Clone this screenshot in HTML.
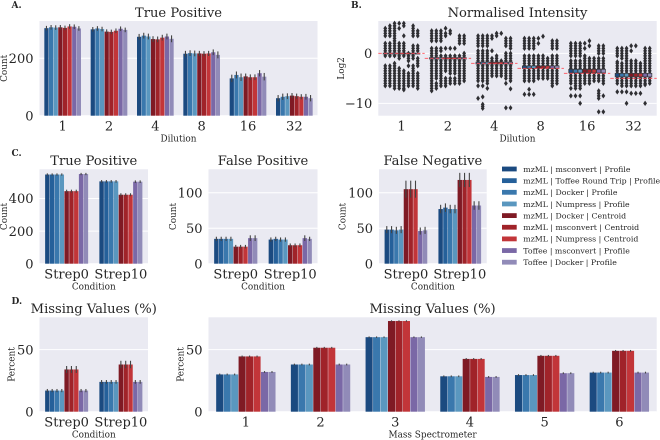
<!DOCTYPE html>
<html>
<head>
<meta charset="utf-8">
<title>Proteomics benchmark figure</title>
<style>
html,body{margin:0;padding:0;background:#fff;width:660px;height:440px;overflow:hidden}
svg{display:block;filter:blur(0.35px)}
text{font-family:"DejaVu Serif","Liberation Serif",serif;fill:#262626}
</style>
</head>
<body>
<svg id="fig" width="660" height="440" viewBox="0 0 660 440" xmlns="http://www.w3.org/2000/svg"></svg>
<script>
// ---------- data ----------
const dilutionCategories = ['1','2','4','8','16','32'];
const conditionCategories = ['Strep0','Strep10'];
const spectrometerCategories = ['1','2','3','4','5','6'];
const legendLabels = ['mzML | msconvert | Profile','mzML | Toffee Round Trip | Profile','mzML | Docker | Profile','mzML | Numpress | Profile','mzML | Docker | Centroid','mzML | msconvert | Centroid','mzML | Numpress | Centroid','Toffee | msconvert | Profile','Toffee | Docker | Profile'];

const tpDilutionValues = [[305,308,307,308,306,311,310,304],[301,304,302,293,292,296,303,299],[275,279,276,267,266,272,276,268],[216,218,217,217,216,217,221,212],[130,142,134,137,134,134,148,136],[61,66,68,70,68,66,66,61]];
const tpDilutionErrors = [[8,8,8,8,8,8,8,8],[8,8,8,8,8,8,8,8],[10,10,10,10,10,10,10,12],[10,10,10,9,9,9,10,12],[13,12,13,10,10,10,11,13],[11,11,10,9,9,9,10,11]];

const tpConditionValues = [[547,547,547,547,445,445,445,550,550],[505,505,505,505,423,423,423,503,503]];
const tpConditionErrors = [[7,7,7,7,9,9,9,7,7],[8,8,8,8,9,9,9,8,8]];
const fpConditionValues = [[35,35,35,35,24,24,24,36,36],[34,35,34,34,26,26,26,36,35]];
const fpConditionErrors = [[3,3,3,3,2.5,2.5,2.5,4,4],[3,3,3,3,2.5,2.5,2.5,4,3]];
const fnConditionValues = [[48,48,47,48,105,105,105,46,47],[77,79,77,77,118,118,118,82,82]];
const fnConditionErrors = [[5,5,5,5,12,12,12,5,5],[6,6,6,6,10,10,10,6,6]];
const mvConditionValues = [[17,17,17,17,34,34,34,17,17],[24,24,24,24,38,38,38,24,24]];
const mvConditionErrors = [[1.3,1.3,1.3,1.3,2.8,2.8,2.8,1.3,1.3],[1.5,1.5,1.5,1.5,3,3,3,1.5,1.5]];
const mvSpectrometerValues = [[30,30,30,44.5,44.5,44.5,32,32],[38,38,38,51.5,51.5,51.5,38,38],[60,60,60,73,73,73,60,60],[28.5,28.5,28.5,42.5,42.5,42.5,28,28],[29.5,29.5,29.5,45,45,45,31,31],[31.5,31.5,31.5,49,49,49,31.5,31.5]];
const mvSpectrometerErrors = [[.7,.7,.7,.7,.7,.7,.7,.7],[.7,.7,.7,.7,.7,.7,.7,.7],[.6,.6,.6,.6,.6,.6,.6,.6],[.7,.7,.7,.7,.7,.7,.7,.7],[.7,.7,.7,.7,.7,.7,.7,.7],[.7,.7,.7,.7,.7,.7,.7,.7]];

// Normalised intensity: outlier points per dilution, per series
const intensityD1 = [
[5,4.5,4,3.5,2,1.5,1,.5,0,-.5,-2.5,-3,-3.5,-4,-4.5,-5,-5.5,-6,-6.5],
[5.5,5,4.5,4,3.5,2,1.5,1,.5,0,-.5,-2.5,-3,-3.5,-4,-4.5,-5,-5.5,-6,-6.5],
[6,5.5,5,4.5,4,3.5,3,2.5,2,1.5,1,.5,0,-.5,-2,-2.5,-3,-3.5,-4,-4.5,-5,-5.5,-6,-6.5,-7],
[6,5,2,1.5,1,.5,0,-.5,-1,-3,-3.5,-4,-4.5,-5,-5.5,-6,-6.5,-7],
[6,5.5,3.5,2,1.5,1,.5,0,-.5,-3.5,-4,-4.5,-5,-5.5,-6,-6.5,-7,-7.3],
[0,-.5,-1,-1.5,-2.5,-4,-4.5,-5,-5.5,-6,-6.5],
[5.5,5,4.5,4,3.5,1.5,1,.5,0,-.5,-1,-2.5,-3,-3.5,-4,-4.5,-5,-5.5,-6,-6.5],
[4.5,4,3.5,1.5,1,.5,-1,-1.5,-2,-2.5,-4,-4.5,-5,-5.5,-6,-6.5,-7]];
const intensityD2 = [
[4.5,4,3.5,3,2.5,1,.5,0,-.5,-1,-1.5,-2,-2.5,-3,-3.5,-4,-4.5,-5,-5.5,-6,-6.5,-7,-7.5],
[4.5,4,3.5,3,2.5,1,.5,0,-.5,-1,-1.5,-2,-2.5,-3,-3.5,-4,-4.5,-5,-6,-6.5,-7],
[4.5,4,3.5,3,2.5,1,.5,-.5,-1,-1.5,-2,-2.5,-3,-3.5,-4,-4.5,-5,-5.5,-6,-6.5],
[5,4,3.5,1,-.5,-1,-1.5,-2,-2.5,-3,-3.5,-5,-5.5,-6,-6.5],
[4.5,4,1,-.5,-1,-1.5,-2,-2.5,-3,-3.5,-4,-5,-5.5,-6],
[1,-.5,-1,-1.5,-2,-2.5,-3,-3.5,-4,-5,-5.5,-6],
[3.5,3,2.5,2,-.5,-1,-1.5,-2,-2.5,-3,-3.5,-4,-4.5,-5,-5.5,-6],
[3.5,3,2.5,2,0,-.5,-1,-1.5,-2,-2.5,-3,-3.5,-4,-4.5,-5,-5.5]];
const intensityD4 = [
[3.5,3,2.5,2,1.5,.5,0,-.5,-1,-1.5,-2,-2.5,-3,-3.5,-4,-4.5,-5,-5.5,-6.5,-9],
[3.5,3,2.5,2,1.5,.5,0,-.5,-1,-1.5,-2,-2.5,-3,-3.5,-4,-4.5,-5,-5.5,-6.5,-8.7,-10.2,-10.6,-11],
[3.5,3,2.5,2,1.5,.5,0,-.5,-1,-1.5,-2,-2.5,-3,-3.5,-4,-4.5,-5,-5.5,-6,-7],
[3.5,3,.5,-1,-1.5,-2,-2.5,-3,-3.5,-4,-4.5],
[4,3.5,-.5,-1,-1.5,-2,-2.5,-3,-3.5,-4,-4.5],
[4,-1.5,-2,-2.5,-3,-3.5,-4,-4.5],
[3,2.5,2,1.5,0,-.5,-1,-1.5,-2,-2.5,-3,-3.5,-4,-4.5,-5,-6,-10.9],
[3,2.5,2,1.5,1,0,-.5,-1,-1.5,-2,-2.5,-3,-3.5,-4,-4.5,-5,-5.5,-7.1,-10.9]];
const intensityD8 = [
[3,2.5,2,1.5,1,-.5,-1,-1.5,-2,-2.5,-3,-3.5,-4,-4.5,-5,-5.5,-8.2],
[3,2.5,2,1.5,1,-.5,-1,-1.5,-2,-2.5,-3,-3.5,-4,-4.5,-5,-5.5,-7.2,-8.2],
[3,2.5,2,1.5,1,-.5,-1,-1.5,-2,-2.5,-3,-3.5,-4,-4.5,-5,-5.5,-8.2],
[3,2,-.5,-1,-1.5,-2,-2.5,-3,-3.5,-4,-4.5,-5],
[3.4,-.5,-1,-1.5,-2,-2.5,-3,-3.5,-4,-4.5,-5],
[-1,-1.5,-2,-2.5,-3,-3.5,-4,-4.5,-5],
[2.5,2,1.5,1,-.5,-1,-1.5,-2,-2.5,-3,-3.5,-4,-4.5,-5,-5.5,-6,-6.5],
[2.5,2,1.5,1,-.5,-1,-1.5,-2,-2.5,-3,-3.5,-4,-4.5,-5,-5.5,-6]];
const intensityD16 = [
[2,1.5,1,.5,0,-.5,-1.5,-2,-2.5,-3,-3.5,-4,-4.5,-5,-5.5,-6,-7,-8.5],
[2,1.5,1,.5,0,-.5,-1.5,-2,-2.5,-3,-3.5,-4,-4.5,-5,-5.5,-6,-6.5,-7,-8.5],
[2,1.5,1,.5,0,-.5,-1.5,-2,-2.5,-3,-3.5,-4,-4.5,-5,-5.5,-6,-6.5,-7,-8.5,-10],
[2,1,-.5,-1,-1.5,-2,-2.5,-3,-3.5,-4,-4.5,-5,-5.5,-6],
[2.5,1.5,-1,-1.5,-2,-2.5,-3,-3.5,-4,-4.5,-5,-5.5,-6],
[-1,-1.5,-2,-2.5,-3,-3.5,-4,-4.5,-5,-5.5],
[1.5,1,.5,0,-1,-1.5,-2,-2.5,-3,-3.5,-4,-4.5,-5,-5.5,-7.5,-8,-8.5,-9,-11.7],
[1.5,1,.5,0,-1,-1.5,-2,-2.5,-3,-3.5,-4,-4.5,-5,-5.5,-6,-8.5,-11.7]];
const intensityD32 = [
[1,.5,0,-.5,-1.7,-2,-2.5,-3,-3.5,-4,-4.5,-5,-5.5,-6,-7.7],
[1,.5,0,-.5,-1,-2,-2.5,-3,-3.5,-4,-4.5,-5,-5.5,-6,-6.5,-7.7],
[1,.5,0,-.5,-1,-1.5,-2,-2.5,-3,-3.5,-4,-4.5,-5,-5.5,-6,-6.5,-7.7,-10],
[1.5,.5,-1.5,-2,-2.5,-3,-3.5,-4,-4.5,-5,-5.5,-6,-6.5,-8],
[1.5,-1.5,-2,-2.5,-3,-3.5,-4,-4.5,-5,-5.5,-6,-6.5,-8],
[-2,-2.5,-3,-3.5,-4,-4.5,-5,-5.5,-6,-6.5,-8],
[1,.5,0,-.5,-1,-1.5,-2,-2.5,-3,-3.5,-4,-4.5,-5,-5.5,-6,-6.3,-10],
[1,.5,0,-.5,-1,-1.5,-2,-2.5,-3,-3.5,-4,-4.5,-5,-5.5,-6]];
const intensityPoints = [intensityD1,intensityD2,intensityD4,intensityD8,intensityD16,intensityD32];
const intensityExpected = [0,-1,-2,-3,-4,-5];
const intensityBoxLow = [-0.15,-1.15,-2.15,-3,-3.9,-4.7];
const intensityBoxHigh = [0.05,-0.85,-1.75,-2.5,-3.2,-4];

// ---------- styling ----------
const palette9 = ['#1b4a80','#25609a','#3a78ad','#5a97bf','#7f1a24','#a02329','#c23539','#7a68a6','#918bb8'];
const palette8 = ['#1b4a80','#3a78ad','#5a97bf','#7f1a24','#a02329','#c23539','#7a68a6','#918bb8'];

const svg = document.getElementById('fig');
const NS = 'http://www.w3.org/2000/svg';
function mk(tag, attrs, parent, txt){
  const el = document.createElementNS(NS, tag);
  for (const k in attrs) el.setAttribute(k, attrs[k]);
  if (txt !== undefined) el.textContent = txt;
  (parent || svg).appendChild(el);
  return el;
}
function makeAxis(p){
  const g = mk('g', {});
  
  
  const bg = mk('rect', {x:p.l, y:p.t, width:p.r-p.l, height:p.b-p.t, fill:'#eaeaf2'}, g);
  
  
  const y = v => p.b - (v - p.ymin) / (p.ymax - p.ymin) * (p.b - p.t);
  const band = (p.r - p.l) / p.cats.length;
  const xc = i => p.l + band * (i + 0.5);
  p.ticks.forEach(v => {
    const line = mk('line', {x1:p.l, x2:p.r, y1:y(v), y2:y(v), stroke:'#fff', 'stroke-width':1}, g);
    
    
    const label = mk('text', {x:p.l-6, y:y(v)+4.7, 'text-anchor':'end', 'font-size':13}, g, String(v).replace('-', '\u2212'));
    
    
  });
  p.cats.forEach((c, i) => {
    const label = mk('text', {x:xc(i), y:p.b+15, 'text-anchor':'middle', 'font-size':13}, g, c);
    
    
  });
  const title = mk('text', {x:(p.l+p.r)/2, y:p.titleY, 'text-anchor':'middle', 'font-size':13.1}, g, p.title);
  
  
  if (p.xlabel){
    const xl = mk('text', {x:p.xlabelX || (p.l+p.r)/2, y:p.b+25.8, 'text-anchor':'middle', 'font-size':8.9, fill:'#333'}, g, p.xlabel);
    
    
  }
  const cy = (p.t+p.b)/2;
  const yl = mk('text', {x:p.ylabelX, y:cy, 'text-anchor':'middle', 'font-size':8.9, fill:'#333', transform:'rotate(-90 '+p.ylabelX+' '+cy+')'}, g, p.ylabel);
  
  
  return {g, y, xc, band};
}
function barPanel(p, values, errors, colors){
  const a = makeAxis(p);
  const n = colors.length;
  const w = a.band * 0.8 / n;
  values.forEach((grp, i) => {
    grp.forEach((v, j) => {
      const x0 = a.xc(i) - a.band*0.4 + j*w;
      const bar = mk('rect', {x:x0+0.2, y:a.y(v), width:w-0.4, height:a.y(0)-a.y(v), fill:colors[j]}, a.g);
      
      
      const e = errors[i][j];
      const err = mk('line', {x1:x0+w/2, x2:x0+w/2, y1:a.y(v+e), y2:a.y(v-e), stroke:'#444', 'stroke-width':1.1}, a.g);
      
      
    });
  });
}

barPanel({name:'true-positive-dilution-panel', l:39.5, r:317.5, t:21, b:115.7, ymin:0, ymax:330, ticks:[0,200], cats:dilutionCategories, title:'True Positive', titleY:17, xlabel:'Dilution', ylabel:'Count', ylabelX:7}, tpDilutionValues, tpDilutionErrors, palette8);

// Panel B
(function(){
  const p = {name:'normalised-intensity-panel', l:378.3, r:656.7, t:21, b:115.7, ymin:-12.47, ymax:6.47, ticks:[0,-10], cats:dilutionCategories, title:'Normalised Intensity', titleY:17, xlabel:'Dilution', ylabel:'Log2', ylabelX:344};
  const a = makeAxis(p);
  const w = a.band * 0.8 / 8;
  intensityPoints.forEach((grp, i) => {
    grp.forEach((col, j) => {
      const cx = a.xc(i) - a.band*0.4 + (j+0.5)*w;
      col.forEach(v => {
        const yy = a.y(v);
        const d = mk('polygon', {points:(cx-1.9)+','+yy+' '+cx+','+(yy-2.7)+' '+(cx+1.9)+','+yy+' '+cx+','+(yy+2.7), fill:'#2e2e32'}, a.g);
        
        
      });
      const box = mk('rect', {x:cx-w/2+0.2, y:a.y(intensityBoxHigh[i]), width:w-0.4, height:a.y(intensityBoxLow[i])-a.y(intensityBoxHigh[i]), fill:palette8[j], stroke:'#3c3c40', 'stroke-width':0.7}, a.g);
      
      
    });
    const ref = mk('line', {x1:a.xc(i)-a.band/2, x2:a.xc(i)+a.band/2, y1:a.y(intensityExpected[i]), y2:a.y(intensityExpected[i]), stroke:'#ff4a55', 'stroke-opacity':0.85, 'stroke-width':1, 'stroke-dasharray':'3.5 2'}, a.g);
    
    
  });
})();

barPanel({name:'true-positive-condition-panel', l:39.5, r:148, t:169.3, b:263.7, ymin:0, ymax:579, ticks:[0,200,400], cats:conditionCategories, title:'True Positive', titleY:165, xlabel:'Condition', ylabel:'Count', ylabelX:7}, tpConditionValues, tpConditionErrors, palette9);
barPanel({name:'false-positive-condition-panel', l:208.5, r:317.5, t:169.3, b:263.7, ymin:0, ymax:133, ticks:[0,50,100], cats:conditionCategories, title:'False Positive', titleY:165, xlabel:'Condition', ylabel:'Count', ylabelX:176}, fpConditionValues, fpConditionErrors, palette9);
barPanel({name:'false-negative-condition-panel', l:379, r:486.7, t:169.3, b:263.7, ymin:0, ymax:133, ticks:[0,50,100], cats:conditionCategories, title:'False Negative', titleY:165, xlabel:'Condition', ylabel:'Count', ylabelX:345.5}, fnConditionValues, fnConditionErrors, palette9);
barPanel({name:'missing-values-condition-panel', l:39.5, r:148, t:317.3, b:411.7, ymin:0, ymax:76, ticks:[0,50], cats:conditionCategories, title:'Missing Values (%)', titleY:313, xlabel:'Condition', ylabel:'Percent', ylabelX:14.5}, mvConditionValues, mvConditionErrors, palette9);
barPanel({name:'missing-values-spectrometer-panel', l:208.5, r:656.7, t:317.3, b:411.7, ymin:0, ymax:76, ticks:[0,50], cats:spectrometerCategories, title:'Missing Values (%)', titleY:313, xlabel:'Mass Spectrometer', ylabel:'Percent', ylabelX:183.5}, mvSpectrometerValues, mvSpectrometerErrors, palette8);

// Legend
const legend = mk('g', {});


legendLabels.forEach((t, i) => {
  const yy = 169 + i * 11.65;
  const sw = mk('rect', {x:502, y:yy-2.4, width:14.7, height:4.8, fill:palette9[i]}, legend);
  
  
  const tx = mk('text', {x:523.3, y:yy+2.8, 'font-size':7.8, fill:'#333'}, legend, t);
  
  
});

// Panel letters
const panelLetters = ['A.','B.','C.','D.'];
const letterX = [11.5,351,11.5,11.5];
const letterY = [8,8,156,304];
panelLetters.forEach((t, i) => {
  const l = mk('text', {x:letterX[i], y:letterY[i], 'font-size':9, 'font-weight':'bold'}, svg, t);
  
  
});
</script>
</body>
</html>
